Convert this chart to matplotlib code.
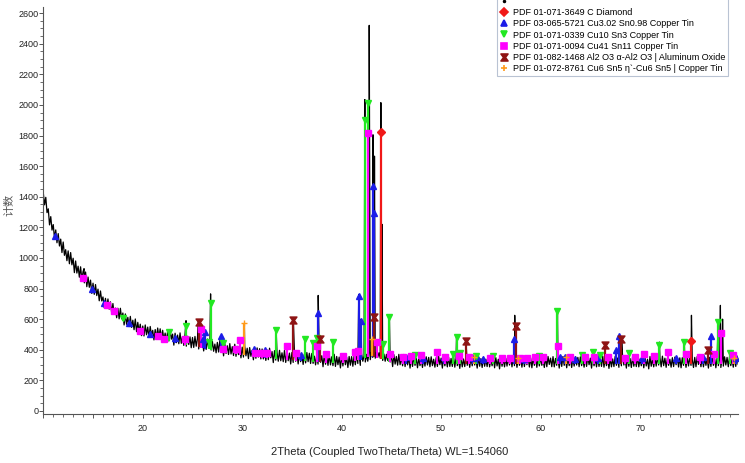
import numpy as np
import matplotlib
matplotlib.use("Agg")
import matplotlib.pyplot as plt
from matplotlib.lines import Line2D
from matplotlib.path import Path
from matplotlib.ticker import MultipleLocator, FuncFormatter

plt.rcParams['font.family'] = ['Liberation Sans', 'DejaVu Sans']

# Measured scan, 10-80 deg at 0.125 deg steps (one row per degree)
scan_counts = (
    [1425, 1347, 1396, 1296, 1321, 1216, 1270, 1182] +  # 10
    [1218, 1128, 1183, 1099, 1159, 1078, 1123, 1035] +
    [1104, 1017, 1054, 982, 1046, 962, 1035, 955] +
    [998, 904, 980, 901, 946, 874, 942, 857] +
    [911, 837, 908, 812, 875, 808, 855, 768] +
    [835, 762, 826, 754, 796, 720, 784, 719] +  # 15
    [745, 675, 736, 671, 732, 665, 713, 639] +
    [702, 631, 672, 609, 671, 602, 671, 602] +
    [640, 562, 634, 566, 612, 551, 618, 546] +
    [593, 531, 601, 518, 579, 521, 567, 492] +
    [555, 490, 562, 498, 548, 480, 552, 495] +  # 20
    [527, 464, 532, 474, 542, 482, 537, 470] +
    [527, 462, 509, 452, 520, 457, 532, 469] +
    [502, 430, 508, 446, 496, 439, 510, 442] +
    [486, 428, 502, 423, 488, 434, 484, 413] +
    [480, 415, 487, 423, 473, 405, 477, 420] +  # 25
    [455, 392, 460, 402, 470, 410, 465, 398] +
    [455, 390, 437, 380, 448, 385, 460, 397] +
    [432, 360, 438, 376, 426, 369, 440, 372] +
    [420, 362, 436, 357, 422, 368, 418, 347] +
    [417, 352, 424, 360, 410, 342, 414, 357] +  # 30
    [397, 334, 402, 344, 412, 352, 407, 340] +
    [405, 340, 387, 330, 398, 335, 410, 347] +
    [388, 316, 394, 332, 382, 325, 396, 328] +
    [380, 322, 396, 317, 382, 328, 378, 307] +
    [382, 317, 389, 325, 375, 307, 379, 322] +  # 35
    [367, 304, 372, 314, 382, 322, 377, 310] +
    [376, 311, 358, 301, 369, 306, 381, 318] +
    [361, 289, 367, 305, 355, 298, 369, 301] +
    [354, 296, 370, 291, 356, 302, 352, 281] +
    [359, 294, 366, 302, 352, 284, 356, 299] +  # 40
    [355, 292, 360, 302, 370, 310, 365, 298] +
    [375, 325, 360, 320, 370, 325, 380, 335] +
    [385, 350, 380, 345, 385, 350, 380, 345] +
    [375, 330, 372, 325, 370, 330, 365, 320] +
    [362, 290, 368, 306, 356, 299, 370, 302] +  # 45
    [353, 295, 369, 290, 355, 301, 351, 280] +
    [350, 291, 356, 298, 343, 282, 347, 296] +
    [340, 284, 345, 293, 354, 300, 350, 289] +
    [354, 296, 338, 286, 348, 291, 358, 302] +
    [345, 280, 350, 295, 340, 288, 352, 291] +  # 50
    [343, 291, 358, 286, 345, 296, 341, 278] +
    [345, 288, 340, 290, 356, 298, 346, 285] +
    [352, 295, 350, 300, 340, 280, 350, 292] +
    [342, 284, 352, 292, 338, 290, 355, 288] +
    [340, 295, 355, 282, 348, 294, 338, 275] +  # 55
    [356, 292, 340, 288, 345, 293, 354, 300] +
    [348, 288, 358, 296, 345, 285, 345, 298] +
    [338, 286, 348, 290, 352, 302, 348, 287] +
    [347, 282, 348, 298, 342, 285, 350, 294] +
    [352, 298, 336, 284, 350, 289, 356, 304] +  # 60
    [345, 289, 355, 288, 343, 298, 344, 280] +
    [350, 291, 356, 298, 343, 282, 347, 296] +
    [340, 284, 345, 293, 354, 300, 350, 289] +
    [354, 296, 338, 286, 348, 291, 358, 302] +
    [345, 280, 350, 295, 340, 288, 352, 291] +  # 65
    [343, 291, 358, 286, 345, 296, 341, 278] +
    [345, 288, 340, 290, 356, 298, 346, 285] +
    [352, 295, 350, 300, 340, 280, 350, 292] +
    [342, 284, 352, 292, 338, 290, 355, 288] +
    [340, 295, 355, 282, 348, 294, 338, 275] +  # 70
    [356, 292, 340, 288, 345, 293, 354, 300] +
    [348, 288, 358, 296, 345, 285, 345, 298] +
    [338, 286, 348, 290, 352, 302, 348, 287] +
    [347, 282, 348, 298, 342, 285, 350, 294] +
    [352, 298, 336, 284, 350, 289, 356, 304] +  # 75
    [345, 289, 355, 288, 343, 298, 344, 280] +
    [350, 291, 356, 298, 343, 282, 347, 296] +
    [340, 284, 345, 293, 354, 300, 350, 289] +
    [354, 296, 338, 286, 348, 291, 358, 302] +
    [320]
)
scan_2theta = np.linspace(10, 80, len(scan_counts))

# Sharp reflections of the scan
peak_2theta = [14.1, 24.35, 25.6, 26.82, 30.22, 33.4, 35.13, 37.64, 41.72, 41.95,
               42.33, 42.77, 43.15, 43.3, 43.94, 44.05, 44.8, 51.55, 52.5, 57.4,
               61.7, 67.95, 68.15, 71.95, 74.45, 75.17, 77.85, 78.08, 78.3]
peak_counts = [930, 590, 590, 765, 560, 545, 610, 755, 760, 600,
               2035, 2520, 1805, 1665, 2015, 1220, 625, 490, 460, 625,
               640, 480, 470, 450, 460, 625, 585, 690, 600]

# Smooth background (stick bases)
bg_2theta = [10, 11, 12, 13, 14, 15, 16, 17, 18, 19, 20, 22, 24, 26, 28, 30, 32, 34,
             36, 38, 40, 41, 42, 43, 44, 45, 46, 50, 60, 70, 80]
bg_counts = [1400, 1180, 1050, 960, 860, 790, 715, 650, 600, 555, 515, 480, 450, 425,
             400, 380, 362, 352, 340, 332, 325, 335, 352, 372, 355, 330, 325, 320,
             320, 320, 320]

# Reference patterns: stick positions and marker heights
diamond_2theta = [43.94, 75.17]
diamond_counts = [1826, 458]

cu3sn_2theta = [11.2, 14.86, 16.1, 18.65, 20.7, 23.24, 26.1, 26.25, 27.83, 31.2, 32.3,
                35.95, 37.58, 41.7, 41.93, 43.15, 43.27, 46.5, 48.2, 50.3, 53.2, 53.6,
                54.2, 57.3, 58.3, 62.0, 62.5, 63.5, 65.8, 67.6, 67.9, 70.2, 73.6, 76.3,
                77.17, 79.6]
cu3sn_counts = [1142, 795, 703, 573, 505, 478, 469, 517, 491, 404, 400,
                365, 643, 751, 588, 1468, 1295, 352, 345, 350, 348, 352,
                342, 469, 340, 350, 350, 342, 345, 400, 487, 348, 345, 350,
                491, 346]

cu10sn3_2theta = [17.98, 22.63, 24.3, 26.65, 26.82, 28.1, 33.39, 36.33, 37.07, 37.5,
                  39.15, 42.37, 42.63, 44.14, 44.8, 47.4, 51.15, 51.55, 51.9, 53.5,
                  55.17, 59.8, 61.66, 64.2, 65.3, 66.0, 68.9, 71.9, 74.4, 77.85, 79.0]
cu10sn3_counts = [610, 517, 556, 452, 708, 447, 530, 469, 447, 478,
                  452, 1902, 2010, 436, 612, 365, 372, 480, 380, 362,
                  360, 358, 653, 365, 385, 368, 380, 430, 452, 582, 380]

cu41sn11_2theta = [14.0, 16.4, 17.1, 19.72, 21.57, 22.1, 24.27, 25.82, 28.1, 29.37,
                   29.77, 31.3, 32.0, 32.5, 34.5, 35.45, 37.47, 38.4, 40.1, 41.3,
                   41.6, 42.63, 43.6, 44.9, 46.2, 47.0, 48.0, 49.6, 50.4, 51.8, 52.8,
                   54.9, 56.1, 56.9, 57.9, 58.6, 59.4, 60.2, 61.8, 63.0, 64.5, 65.4,
                   66.8, 68.5, 69.5, 70.4, 71.4, 72.8, 74.6, 76.0, 77.4, 78.1, 79.3]
cu41sn11_counts = [870, 690, 653, 523, 487, 473, 473, 534, 408, 404,
                   462, 378, 378, 378, 425, 378, 425, 370, 360, 385,
                   395, 1815, 450, 375, 355, 358, 365, 386, 355, 360, 350,
                   345, 345, 345, 345, 345, 350, 355, 425, 355, 350, 352,
                   350, 345, 355, 370, 358, 386, 375, 355, 375, 508, 365]

al2o3_2theta = [25.62, 35.13, 37.8, 43.3, 52.48, 57.48, 66.45, 68.1, 76.83]
al2o3_counts = [582, 595, 473, 612, 458, 556, 432, 469, 397]

cu6sn5_2theta = [30.2, 43.05, 53.3, 57.7, 62.6, 79.4]
cu6sn5_counts = [578, 469, 350, 348, 350, 348]

legend_labels = [
    "",
    "PDF 01-071-3649 C Diamond",
    "PDF 03-065-5721 Cu3.02 Sn0.98 Copper Tin",
    "PDF 01-071-0339 Cu10 Sn3 Copper Tin",
    "PDF 01-071-0094 Cu41 Sn11 Copper Tin",
    "PDF 01-082-1468 Al2 O3 \u03b1-Al2 O3 | Aluminum Oxide",
    "PDF 01-072-8761 Cu6 Sn5 \u03b7`-Cu6 Sn5 | Copper Tin",
]

hourglass = Path([(-1, 1), (1, 1), (0.25, 0), (1, -1), (-1, -1), (-0.25, 0), (-1, 1)],
                 [Path.MOVETO] + [Path.LINETO] * 5 + [Path.CLOSEPOLY])

phases = [
    (diamond_2theta, diamond_counts, '#F01818', 'D', 3.6),
    (cu3sn_2theta, cu3sn_counts, '#1C1CE8', '^', 4.5),
    (cu10sn3_2theta, cu10sn3_counts, '#22E822', 'v', 4.5),
    (cu41sn11_2theta, cu41sn11_counts, '#FF00FF', 's', 4.5),
    (al2o3_2theta, al2o3_counts, '#8E1414', hourglass, 5),
    (cu6sn5_2theta, cu6sn5_counts, '#FF9A1A', '+', 5),
]

fig = plt.figure(figsize=(7.45, 4.63), dpi=100)
ax = fig.add_axes([43.3 / 745, 1 - 414 / 463, (738 - 43.3) / 745, (414 - 7) / 463])

# merge scan and peaks
x_all = np.concatenate([scan_2theta, peak_2theta])
y_all = np.concatenate([scan_counts, peak_counts])
order = np.argsort(x_all, kind='stable')
ax.plot(x_all[order], y_all[order], color='black', lw=0.9, zorder=2)

handles = [Line2D([], [], color='black', marker='.', ms=3, ls='none')]
for pos, top, color, mk, ms in phases:
    pos = np.array(pos)
    base = np.interp(pos, bg_2theta, bg_counts) - 15
    ax.vlines(pos, base, top, color=color, lw=1.6, zorder=3)
    ax.plot(pos, top, ls='none', marker=mk, color=color, ms=ms, mew=1.0, zorder=4)
    handles.append(Line2D([], [], ls='none', marker=mk, color=color, ms=ms, mew=1.2))

ax.set_xlim(10, 79.85)
ax.set_ylim(-20, 2640)

for side in ['top', 'right']:
    ax.spines[side].set_visible(False)
for side in ['left', 'bottom']:
    ax.spines[side].set_color('#555555')
    ax.spines[side].set_linewidth(0.8)

ax.xaxis.set_major_locator(MultipleLocator(5))
ax.xaxis.set_minor_locator(MultipleLocator(1))
ax.xaxis.set_major_formatter(FuncFormatter(lambda v, p: f"{int(v)}" if v % 10 == 0 and v > 10 else ""))
ax.yaxis.set_major_locator(MultipleLocator(200))
ax.yaxis.set_minor_locator(MultipleLocator(50))
ax.tick_params(axis='both', which='major', length=3, width=0.7, colors='#555555',
               labelcolor='#222222', labelsize=6.5)
ax.tick_params(axis='both', which='minor', length=2, width=0.6, colors='#555555')
ax.tick_params(axis='y', which='major', pad=0.5)
ax.tick_params(axis='x', which='major', pad=4)

fig.text(390 / 745, 1 - 452 / 463, "2Theta (Coupled TwoTheta/Theta) WL=1.54060",
         ha='center', va='center', fontsize=8, color='#222222')
fig.text(9 / 745, 1 - 205 / 463, "计数", rotation=90, ha='center', va='center',
         fontsize=8, color='#555555', family=['Noto Sans CJK SC', 'DejaVu Sans'])

leg = fig.legend(handles, legend_labels, loc='lower left',
                 bbox_to_anchor=(497 / 745, 1 - 76 / 463), bbox_transform=fig.transFigure,
                 borderaxespad=0, fontsize=6.5, frameon=True, fancybox=False,
                 borderpad=0.3, labelspacing=0.25, handlelength=1.0, handletextpad=0.5)
leg.get_frame().set_edgecolor('#A8B4C8')
leg.get_frame().set_linewidth(0.8)

fig.savefig("out.png", dpi=100)
